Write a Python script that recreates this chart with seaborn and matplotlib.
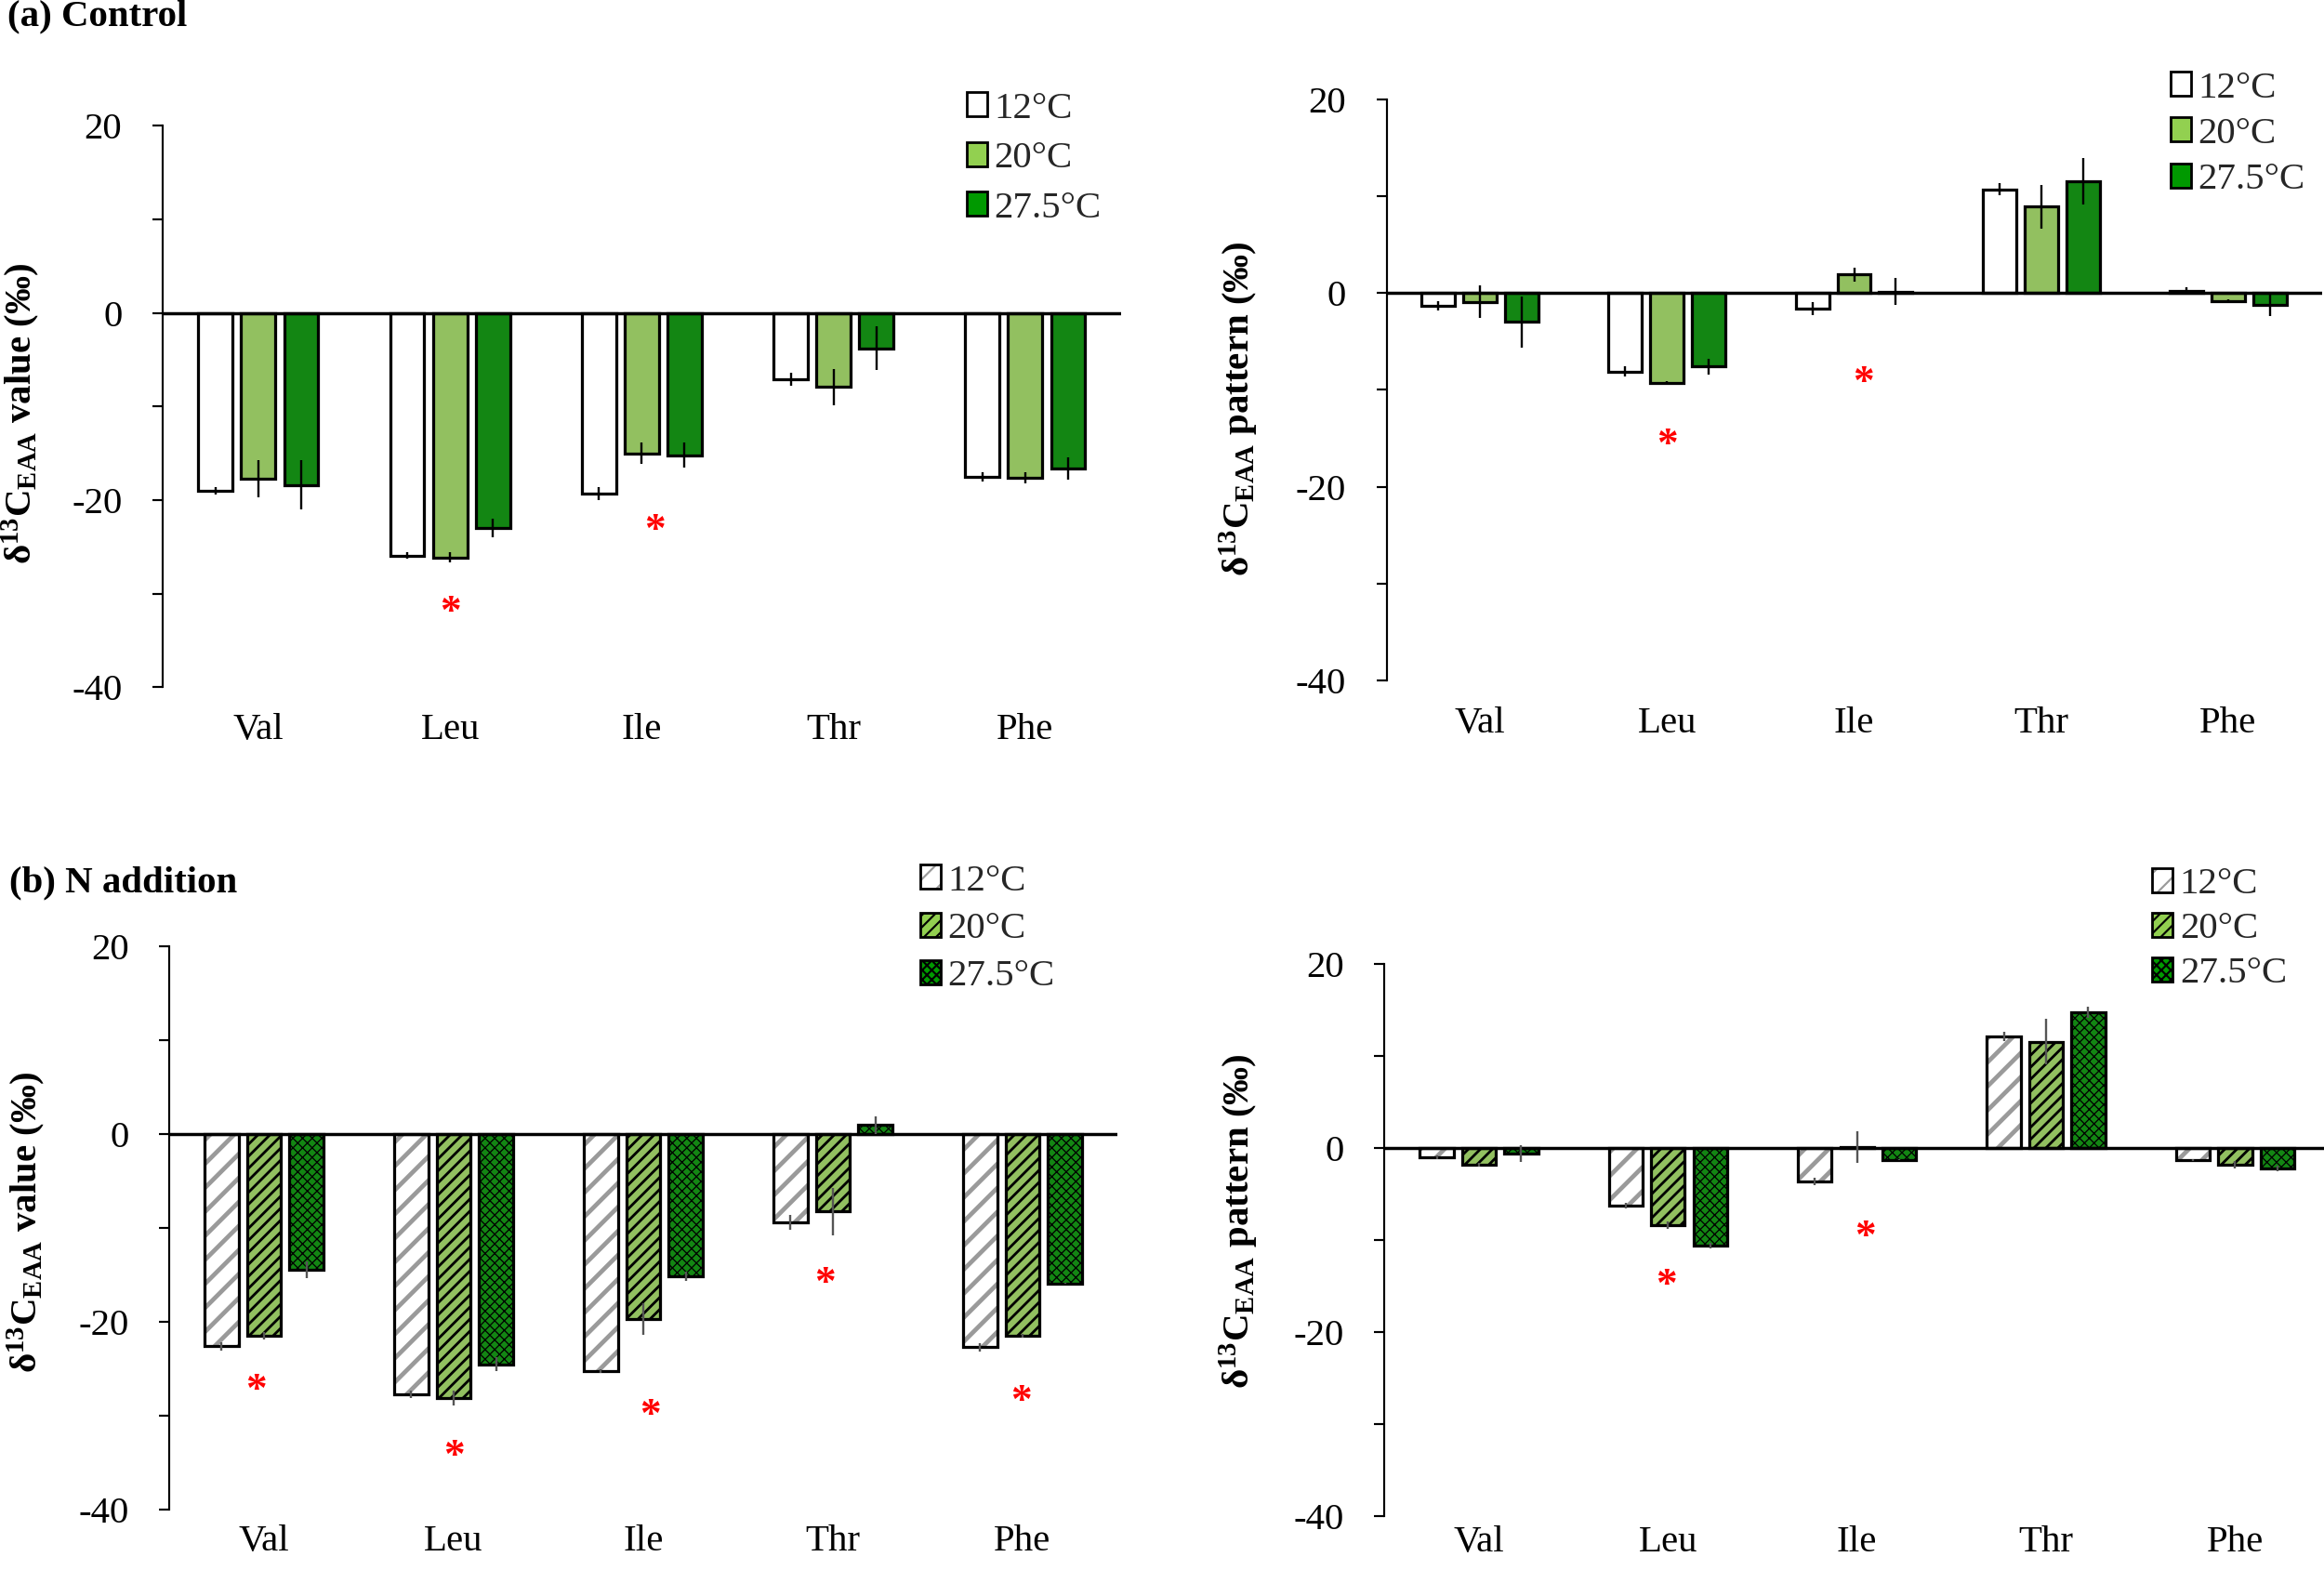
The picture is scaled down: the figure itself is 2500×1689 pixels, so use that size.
import numpy as np
import pandas as pd
import seaborn as sns
import matplotlib as mpl
import matplotlib.pyplot as plt
from matplotlib.patches import Rectangle, Patch
from matplotlib.legend_handler import HandlerTuple

sns.set_theme(style='white')
plt.rcParams['font.family'] = ['Liberation Serif', 'DejaVu Serif']
plt.rcParams['mathtext.fontset'] = 'custom'
plt.rcParams['mathtext.rm'] = 'Liberation Serif'
plt.rcParams['mathtext.bf'] = 'Liberation Serif:bold'
plt.rcParams['mathtext.it'] = 'Liberation Serif:italic'
plt.rcParams['axes.unicode_minus'] = False

# ---------------- data ----------------
amino = ['Val', 'Leu', 'Ile', 'Thr', 'Phe']
temps = ['12°C', '20°C', '27.5°C']

# (a) Control, d13C value
a_val_12 = [-19.0, -25.9, -19.3, -7.05, -17.55]
a_val_20 = [-17.7, -26.1, -15.0, -7.9, -17.65]
a_val_27 = [-18.35, -23.0, -15.2, -3.75, -16.6]
a_val_e12 = [0.4, 0.3, 0.7, 0.7, 0.5]
a_val_e20 = [2.0, 0.5, 1.15, 1.95, 0.6]
a_val_e27 = [2.6, 1.0, 1.35, 2.35, 1.2]
a_val_star_x = [1.0, 2.07]
a_val_star_y = [-32.0, -23.3]

# (a) Control, d13C pattern
a_pat_12 = [-1.3, -8.1, -1.6, 10.7, 0.2]
a_pat_20 = [-0.9, -9.3, 1.9, 8.9, -0.8]
a_pat_27 = [-3.0, -7.6, 0.15, 11.55, -1.2]
a_pat_e12 = [0.5, 0.5, 0.7, 0.6, 0.4]
a_pat_e20 = [1.7, 0.2, 0.7, 2.25, 0.1]
a_pat_e27 = [2.6, 0.8, 1.4, 2.4, 1.2]
a_pat_star_x = [1.0, 2.05]
a_pat_star_y = [-15.7, -9.3]

# (b) N addition, d13C value
b_val_12 = [-22.6, -27.7, -25.2, -9.4, -22.7]
b_val_20 = [-21.5, -28.1, -19.7, -8.25, -21.5]
b_val_27 = [-14.45, -24.5, -15.1, 0.95, -15.9]
b_val_e12 = [0.4, 0.4, 0.2, 0.75, 0.4]
b_val_e20 = [0.4, 0.8, 1.7, 2.5, 0.2]
b_val_e27 = [0.9, 0.75, 0.5, 0.9, 0.05]
b_val_star_x = [-0.04, 1.0, 2.035, 2.96, 3.99]
b_val_star_y = [-27.3, -34.3, -30.0, -15.9, -28.5]

# (b) N addition, d13C pattern
b_pat_12 = [-1.07, -6.3, -3.7, 12.1, -1.3]
b_pat_20 = [-1.8, -8.4, 0.1, 11.5, -1.8]
b_pat_27 = [-0.65, -10.65, -1.3, 14.7, -2.25]
b_pat_e12 = [0.2, 0.3, 0.4, 0.5, 0.1]
b_pat_e20 = [0.2, 0.4, 1.7, 2.45, 0.4]
b_pat_e27 = [0.9, 0.3, 0.05, 0.65, 0.3]
b_pat_star_x = [0.99, 2.045]
b_pat_star_y = [-15.0, -9.7]

yticks = [-40, -20, 0, 20]
yminor = [-30, -10, 10]

face_colors = ['#FFFFFF', '#92D050', '#009900']
hatch_styles = ['//', '////', 'xxxxx']
hatch_colors = ['#9A9A9A', '#000000', '#000000']
hatch_lws = [2.2, 1.3, 0.6]

DPI = 155
FS = 19
fig = plt.figure(figsize=(2500 / DPI, 1689 / DPI), dpi=DPI)

ylab_value = r'δ$^{\mathbf{13}}$C$_{\mathbf{EAA}}$ value (‰)'
ylab_pattern = r'δ$^{\mathbf{13}}$C$_{\mathbf{EAA}}$ pattern (‰)'


def set_hlw(p, lw):
    if hasattr(p, 'set_hatch_linewidth'):
        p.set_hatch_linewidth(lw)
    else:
        p._hatch_linewidth = lw
    orig_draw = p.draw

    def draw(renderer, _orig=orig_draw, _lw=lw):
        with mpl.rc_context({'hatch.linewidth': _lw}):
            _orig(renderer)
    p.draw = draw


def panel(rect, xmax, means, errs, star_x, star_y, hatched, ecolor,
          ylabel, ylab_xy, leg_xy, leg_spacing, xpad):
    ax = fig.add_axes(rect)
    df = pd.DataFrame({
        'aa': np.tile(amino, 3),
        'temp': np.repeat(temps, len(amino)),
        'val': np.concatenate(means),
    })
    sns.barplot(data=df, x='aa', y='val', hue='temp', order=amino,
                hue_order=temps, palette=face_colors, errorbar=None,
                width=0.67, gap=0.2, legend=False, ax=ax,
                edgecolor='black', linewidth=1.5, zorder=2)
    bar_conts = list(ax.containers)
    for i, cont in enumerate(bar_conts):
        for j, bar in enumerate(cont):
            if hatched:
                bar.set_hatch(hatch_styles[i])
                bar.set_edgecolor(hatch_colors[i])
                bar.set_linewidth(0)
                set_hlw(bar, hatch_lws[i])
                outline = Rectangle(bar.get_xy(), bar.get_width(), bar.get_height(),
                                    fill=False, edgecolor='black', linewidth=1.5,
                                    zorder=3)
                ax.add_patch(outline)
            xc = bar.get_x() + bar.get_width() / 2
            ax.errorbar(xc, means[i][j], yerr=errs[i][j], fmt='none',
                        ecolor=ecolor, elinewidth=1.1, capsize=0, zorder=5)
    ax.axhline(0, color='black', lw=1.6, zorder=4)
    for sx, sy in zip(star_x, star_y):
        ax.text(sx, sy, '*', color='red', fontsize=FS + 2, ha='center',
                va='center', fontweight='bold', zorder=6)
    ax.set_xlim(-0.5, xmax)
    ax.set_ylim(-40, 20)
    ax.set_yticks(yticks)
    ax.set_yticks(yminor, minor=True)
    ax.set_yticklabels([str(t) for t in yticks])
    ax.set_xlabel('')
    ax.set_ylabel('')
    for s in ['top', 'right', 'bottom']:
        ax.spines[s].set_visible(False)
    ax.spines['left'].set_color('black')
    ax.spines['left'].set_linewidth(1.0)
    ax.tick_params(axis='y', which='both', left=True, direction='out',
                   length=5.2, width=1.0, color='black', labelsize=FS, pad=15)
    ax.tick_params(axis='x', bottom=False, length=0, labelsize=FS, pad=xpad)
    for lab in ax.get_xticklabels() + ax.get_yticklabels():
        lab.set_color('black')
    fig.text(ylab_xy[0], ylab_xy[1], ylabel, rotation=90, ha='center',
             va='center', fontsize=FS, fontweight='bold', color='black')
    handles = []
    for i in range(3):
        if hatched:
            hp = Patch(facecolor=face_colors[i], hatch=hatch_styles[i],
                       edgecolor=hatch_colors[i], linewidth=0)
            set_hlw(hp, hatch_lws[i])
            h = (hp, Patch(fill=False, edgecolor='black', linewidth=1.3))
        else:
            h = Patch(facecolor=face_colors[i], edgecolor='black', linewidth=1.3)
        handles.append(h)
    fig.legend(handles, temps, loc='upper left', bbox_to_anchor=leg_xy,
               bbox_transform=fig.transFigure, frameon=False, fontsize=FS,
               handlelength=0.55, handleheight=0.6, handletextpad=0.18,
               labelspacing=leg_spacing, borderpad=0, borderaxespad=0,
               handler_map={tuple: HandlerTuple(ndivide=1, pad=0)})
    return ax


panel([0.0699, 0.5622, 0.4125, 0.3576], 4.5,
      [a_val_12, a_val_20, a_val_27], [a_val_e12, a_val_e20, a_val_e27],
      a_val_star_x, a_val_star_y, False, 'black', ylab_value,
      (0.0088, 0.7365), (0.4158, 0.9415), 0.4, 13)
panel([0.5966, 0.5666, 0.4024, 0.3702], 4.5,
      [a_pat_12, a_pat_20, a_pat_27], [a_pat_e12, a_pat_e20, a_pat_e27],
      a_pat_star_x, a_pat_star_y, False, 'black', ylab_pattern,
      (0.533, 0.7398), (0.9339, 0.9547), 0.3, 13)
panel([0.0728, 0.0383, 0.4080, 0.3590], 4.5,
      [b_val_12, b_val_20, b_val_27], [b_val_e12, b_val_e20, b_val_e27],
      b_val_star_x, b_val_star_y, True, '#555555', ylab_value,
      (0.0112, 0.2217), (0.3958, 0.4495), 0.35, 7.5)
panel([0.5957, 0.0343, 0.4043, 0.3520], 4.47,
      [b_pat_12, b_pat_20, b_pat_27], [b_pat_e12, b_pat_e20, b_pat_e27],
      b_pat_star_x, b_pat_star_y, True, '#555555', ylab_pattern,
      (0.533, 0.2223), (0.9260, 0.4475), 0.27, 4.5)

fig.text(0.003, 0.9893, '(a) Control', fontsize=FS, fontweight='bold',
         ha='left', va='center', color='black')
fig.text(0.004, 0.4378, '(b) N addition', fontsize=FS, fontweight='bold',
         ha='left', va='center', color='black')

fig.savefig('out.png', dpi=DPI, facecolor='white')
